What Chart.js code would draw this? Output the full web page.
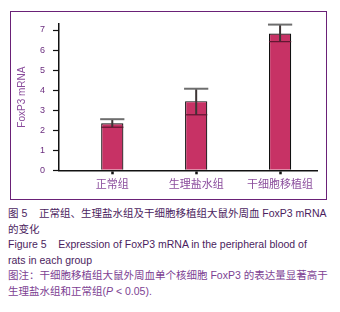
<!DOCTYPE html>
<html><head><meta charset="utf-8">
<script src="https://cdn.jsdelivr.net/npm/chart.js@4"></script>
<style>
html,body{margin:0;padding:0;background:#fff;width:340px;height:312px;overflow:hidden;}
#frame{position:absolute;left:10px;top:11px;width:315px;height:187px;border:1.5px solid #6a2177;}
#wrap{position:absolute;left:0;top:0;width:340px;height:200px;}
#cap{position:absolute;left:8px;top:206px;width:332px;font-family:"Liberation Sans","Noto Sans CJK SC",sans-serif;font-size:10.5px;line-height:15.6px;white-space:nowrap;}
.d{color:#4b1d5e;}
.n{color:#7d3f93;}
</style></head>
<body>
<div id="frame"></div>
<div id="wrap"><canvas id="c" width="340" height="200"></canvas></div>
<div id="cap">
<div class="d">图 5&nbsp;&nbsp;&nbsp; 正常组、生理盐水组及干细胞移植组大鼠外周血 FoxP3 mRNA</div>
<div class="d">的变化</div>
<div class="d">Figure 5&nbsp;&nbsp;&nbsp; Expression of FoxP3 mRNA in the peripheral blood of</div>
<div class="d">rats in each group</div>
<div class="n">图注：干细胞移植组大鼠外周血单个核细胞 FoxP3 的表达量显著高于</div>
<div class="n">生理盐水组和正常组(<i>P</i> &lt; 0.05).</div>
</div>
<script>
const categories = ["正常组", "生理盐水组", "干细胞移植组"];
const means = [2.35, 3.45, 6.82];
const errUp = [0.2, 0.62, 0.45];
const errDown = [0.2, 0.68, 0.4];
const yTicks = [0, 1, 2, 3, 4, 5, 6, 7];

const errorBars = {
  id: 'errorBars',
  afterDatasetsDraw(chart) {
    const ctx = chart.ctx;
    const x = chart.scales.x, y = chart.scales.y;
    const meta = chart.getDatasetMeta(0);
    ctx.save();
    meta.data.forEach((bar, i) => {
      const px = x.getPixelForValue(i + 1);
      const yTop = y.getPixelForValue(means[i] + errUp[i]);
      const yBot = y.getPixelForValue(means[i] - errDown[i]);
      const half = bar.width / 2;
      ctx.lineCap = 'butt';
      ctx.strokeStyle = '#3d3535';
      ctx.lineWidth = 2;
      ctx.beginPath(); ctx.moveTo(px, yTop); ctx.lineTo(px, yBot); ctx.stroke();
      ctx.strokeStyle = '#6e6e6e';
      ctx.beginPath(); ctx.moveTo(px - half - 1, yTop); ctx.lineTo(px + half + 1, yTop); ctx.stroke();
      ctx.strokeStyle = '#5e1630';
      ctx.lineWidth = 1.2;
      ctx.beginPath(); ctx.moveTo(px - half, yBot); ctx.lineTo(px + half, yBot); ctx.stroke();
    });
    ctx.restore();
  }
};

new Chart(document.getElementById('c'), {
  type: 'bar',
  data: {
    datasets: [{
      data: means.map((v, i) => ({x: i + 1, y: v})),
      backgroundColor: '#c73265',
      borderColor: '#111',
      borderWidth: 1.2,
      barPercentage: 0.265,
      categoryPercentage: 1
    }]
  },
  options: {
    responsive: false,
    animation: false,
    events: [],
    layout: {padding: {left: 0, right: 23, top: 24, bottom: 0}},
    plugins: {legend: {display: false}, tooltip: {enabled: false}},
    scales: {
      x: {
        type: 'linear',
        offset: false,
        min: 0.365,
        max: 3.44,
        afterBuildTicks: s => { s.ticks = categories.map((c, i) => ({value: i + 1})); },
        afterFit: s => { s.height = 29.7; },
        border: {color: '#111', width: 1.5},
        grid: {drawOnChartArea: false, offset: false, tickLength: 4, tickWidth: 2.5, color: '#111'},
        ticks: {
          callback: v => categories[Math.round(v) - 1],
          color: '#8a4c9c',
          padding: 3,
          maxRotation: 0,
          font: {family: '"Noto Sans CJK SC", sans-serif', size: 11}
        }
      },
      y: {
        min: 0,
        max: 7.3,
        afterBuildTicks: s => { s.ticks = yTicks.map(v => ({value: v})); },
        afterFit: s => { s.width = 59; },
        border: {color: '#111', width: 1.5},
        grid: {drawOnChartArea: false, tickLength: 6, tickWidth: 1.2, color: '#111'},
        ticks: {
          color: '#6b2d7f',
          padding: 8,
          font: {family: '"Liberation Sans", Arial, sans-serif', size: 9}
        },
        title: {
          display: true,
          text: 'FoxP3 mRNA',
          color: '#8a4c9c',
          padding: {top: 16, bottom: 4},
          font: {family: '"Liberation Sans", Arial, sans-serif', size: 10}
        }
      }
    }
  },
  plugins: [errorBars]
});
</script>
</body></html>
